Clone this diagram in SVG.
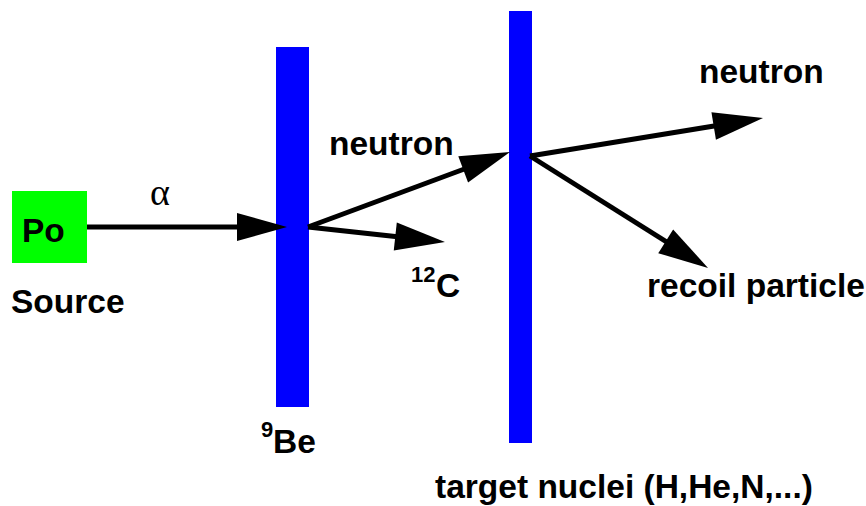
<svg xmlns="http://www.w3.org/2000/svg" width="866" height="506" viewBox="0 0 866 506">
<style>
  .lbl { font-family: "Liberation Sans", Arial, sans-serif; font-weight: bold; font-size: 33.5px; fill: #000; }
  .sup { font-family: "Liberation Sans", Arial, sans-serif; font-weight: bold; font-size: 22px; fill: #000; }
  .greek { font-family: "Liberation Serif", "DejaVu Serif", serif; font-size: 38px; fill: #000; }
  .bar { fill: #0000ff; }
  .conn { stroke: #000; stroke-width: 5; fill: none; marker-end: url(#head); }
</style>
<defs>
  <marker id="head" markerUnits="userSpaceOnUse" markerWidth="50" markerHeight="28" refX="30" refY="14" orient="auto" overflow="visible">
    <path d="M0,0 L50,14 L0,28 Z" fill="#000"/>
  </marker>
</defs>
<rect width="866" height="506" fill="#fff"/>
<g id="source">
  <rect x="12" y="191" width="75" height="72" fill="#00ff00"/>
  <text class="lbl" x="22" y="242">Po</text>
  <text class="lbl" x="11" y="313">Source</text>
</g>
<g id="be">
  <rect class="bar" x="276" y="47" width="33" height="360"/>
  <text class="sup" x="261" y="437">9</text>
  <text class="lbl" x="273" y="453">Be</text>
</g>
<g id="target">
  <rect class="bar" x="509" y="11" width="23" height="432"/>
  <text class="lbl" x="435" y="498">target nuclei (H,He,N,...)</text>
</g>
<g id="connectors">
  <line class="conn" x1="87" y1="227" x2="267" y2="227"/>
  <line class="conn" x1="308" y1="227" x2="491.3" y2="159"/>
  <line class="conn" x1="308" y1="227" x2="425.1" y2="239.8"/>
  <line class="conn" x1="530" y1="156" x2="743.3" y2="121.2"/>
  <line class="conn" x1="530" y1="156" x2="691.1" y2="257.3"/>
</g>
<g id="labels">
  <text class="greek" x="150" y="205">α</text>
  <text class="lbl" x="329" y="155">neutron</text>
  <text class="sup" x="411" y="282">12</text>
  <text class="lbl" x="436" y="297">C</text>
  <text class="lbl" x="699" y="83">neutron</text>
  <text class="lbl" x="647" y="297">recoil particle</text>
</g>
</svg>
